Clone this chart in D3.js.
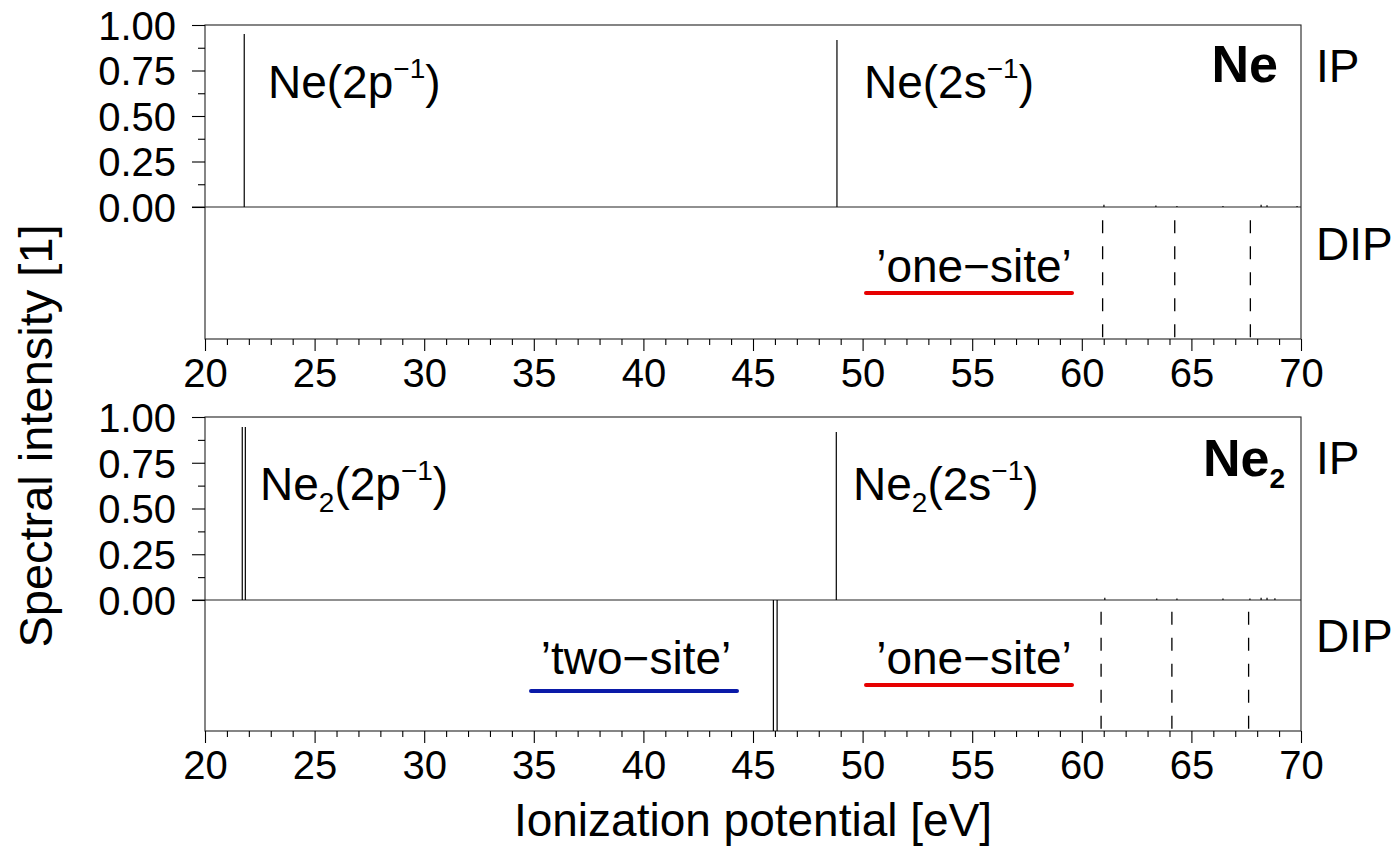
<!DOCTYPE html>
<html><head><meta charset="utf-8">
<script src="https://cdn.jsdelivr.net/npm/d3@7"></script>
<style>
body{margin:0;background:#fff}
svg{display:block}
text{font-family:"Liberation Sans",Arial,Helvetica,sans-serif;fill:#000}
</style>
</head><body>
<svg id="chart" width="1398" height="846"></svg>
<script>
// ---------------- data ----------------
const xMajorTicks = [20, 25, 30, 35, 40, 45, 50, 55, 60, 65, 70];
const xMinorTicks = [21,22,23,24,26,27,28,29,31,32,33,34,36,37,38,39,41,42,43,44,46,47,48,49,51,52,53,54,56,57,58,59,61,62,63,64,66,67,68,69];
const yTickValues = [0, 0.25, 0.5, 0.75, 1];
const yTickLabels = ["0.00", "0.25", "0.50", "0.75", "1.00"];
const yMinorTicks = [0.125, 0.375, 0.625, 0.875];

// Ne (atom): ionization potentials (IP) and double ionization potentials (DIP)
const neIpEnergy    = [21.79, 48.83, 61.01, 63.38, 64.34, 66.44, 68.18, 68.45, 69.82];
const neIpIntensity = [0.950, 0.917, 0.012, 0.008, 0.006, 0.006, 0.012, 0.010, 0.006];
const neDipEnergy    = [60.95, 64.24, 67.69];
const neDipIntensity = [0.90, 0.90, 0.90];

// Ne2 (dimer)
const ne2IpEnergy    = [21.70, 21.84, 48.80, 61.05, 63.42, 64.34, 66.44, 67.67, 68.18, 68.45, 68.81];
const ne2IpIntensity = [0.945, 0.945, 0.918, 0.012, 0.008, 0.008, 0.008, 0.008, 0.012, 0.012, 0.010];
const ne2DipTwoSiteEnergy    = [45.93, 46.10];
const ne2DipTwoSiteIntensity = [1.0, 1.0];
const ne2DipOneSiteEnergy    = [60.88, 64.11, 67.61];
const ne2DipOneSiteIntensity = [0.91, 0.91, 0.91];

// ---------------- layout ----------------
const svg = d3.select("#chart");
const FONT = '"Liberation Sans",Arial,Helvetica,sans-serif';
const left = 205, right = 1301;
const x = d3.scaleLinear().domain([20, 70]).range([left, right]);

const panels = [
  { top: 25,  zero: 207, bottom: 339,
    ip: [neIpEnergy, neIpIntensity],
    dipSolid: null,
    dipDashed: [neDipEnergy, neDipIntensity] },
  { top: 417, zero: 600, bottom: 731,
    ip: [ne2IpEnergy, ne2IpIntensity],
    dipSolid: [ne2DipTwoSiteEnergy, ne2DipTwoSiteIntensity],
    dipDashed: [ne2DipOneSiteEnergy, ne2DipOneSiteIntensity] }
];

function styleAxis(g, size) {
  g.attr("font-size", size).attr("font-family", FONT).attr("color", "#000");
  g.select(".domain").remove();
  g.selectAll(".tick line").attr("stroke-width", 1.1);
}

panels.forEach(p => {
  const yIP = d3.scaleLinear().domain([0, 1]).range([p.zero, p.top]);
  const yDIP = d3.scaleLinear().domain([0, 1]).range([p.bottom, p.zero]);
  const g = svg.append("g");

  // frame
  g.append("rect").attr("x", left).attr("y", p.top)
    .attr("width", right - left).attr("height", p.bottom - p.top)
    .attr("fill", "none").attr("stroke", "#222").attr("stroke-width", 1.1);
  // zero line separating IP and DIP
  g.append("line").attr("x1", left - 13).attr("x2", right)
    .attr("y1", yIP(0)).attr("y2", yIP(0))
    .attr("stroke", "#222").attr("stroke-width", 1.1);

  // y axis (IP part only)
  const yAx = g.append("g").attr("transform", `translate(${left},0)`)
    .call(d3.axisLeft(yIP).tickValues(yTickValues)
      .tickFormat((d, i) => yTickLabels[i]).tickSize(13).tickPadding(16));
  styleAxis(yAx, 40);
  yAx.selectAll("text").attr("dy", "0.36em");
  const yAxMinor = g.append("g").attr("transform", `translate(${left},0)`)
    .call(d3.axisLeft(yIP).tickValues(yMinorTicks).tickFormat("").tickSize(7));
  styleAxis(yAxMinor, 40);

  // x axis
  const xAx = g.append("g").attr("transform", `translate(0,${p.bottom})`)
    .call(d3.axisBottom(x).tickValues(xMajorTicks).tickFormat(d3.format("d"))
      .tickSize(12).tickPadding(8));
  styleAxis(xAx, 40);
  const xAxMinor = g.append("g").attr("transform", `translate(0,${p.bottom})`)
    .call(d3.axisBottom(x).tickValues(xMinorTicks).tickFormat("").tickSize(6));
  styleAxis(xAxMinor, 40);

  // IP sticks
  const [ipE, ipI] = p.ip;
  g.append("g").selectAll("line").data(ipE).join("line")
    .attr("x1", d => x(d)).attr("x2", d => x(d))
    .attr("y1", yIP(0)).attr("y2", (d, i) => yIP(ipI[i]))
    .attr("stroke", "#000").attr("stroke-width", 1.2);

  // DIP solid sticks (two-site)
  if (p.dipSolid) {
    const [dE, dI] = p.dipSolid;
    g.append("g").selectAll("line").data(dE).join("line")
      .attr("x1", d => x(d)).attr("x2", d => x(d))
      .attr("y1", (d, i) => yDIP(dI[i])).attr("y2", yDIP(0))
      .attr("stroke", "#000").attr("stroke-width", 1.2);
  }
  // DIP dashed sticks (one-site)
  const [dE, dI] = p.dipDashed;
  g.append("g").selectAll("line").data(dE).join("line")
    .attr("x1", d => x(d)).attr("x2", d => x(d))
    .attr("y1", (d, i) => yDIP(dI[i])).attr("y2", yDIP(0))
    .attr("stroke", "#000").attr("stroke-width", 1.3)
    .attr("stroke-dasharray", "13,13");
});

// ---------------- text ----------------
function label(xp, yp, parts, opts = {}) {
  const t = svg.append("text").attr("x", xp).attr("y", yp)
    .attr("font-size", opts.size || 46)
    .attr("font-weight", opts.weight || "normal")
    .attr("text-anchor", opts.anchor || "start");
  let shift = 0;
  parts.forEach(([str, kind]) => {
    const ts = t.append("tspan").text(str);
    let target = 0, fs = opts.size || 46;
    if (kind === "sup") { target = -20; fs = 28; }
    if (kind === "sub") { target = 12; fs = 28; }
    ts.attr("font-size", fs).attr("dy", target - shift);
    shift = target;
  });
  return t;
}

// top panel (Ne)
label(268, 98, [["Ne(2p"], ["\u22121", "sup"], [")"]]);
label(864, 98, [["Ne(2s"], ["\u22121", "sup"], [")"]]);
label(1278, 82, [["Ne"]], { size: 52, weight: "bold", anchor: "end" });
label(1316, 82, [["IP"]]);
label(1316, 260, [["DIP"]]);
label(974, 282, [["\u2019one\u2212site\u2019"]], { anchor: "middle" });
svg.append("line").attr("x1", 866).attr("x2", 1072).attr("y1", 293).attr("y2", 293)
  .attr("stroke", "#e60000").attr("stroke-width", 4).attr("stroke-linecap", "round");

// bottom panel (Ne2)
label(260, 500, [["Ne"], ["2", "sub"], ["(2p"], ["\u22121", "sup"], [")"]]);
label(853, 500, [["Ne"], ["2", "sub"], ["(2s"], ["\u22121", "sup"], [")"]]);
const bold2 = label(1285, 476, [["Ne"], ["2", "sub"]], { size: 52, weight: "bold", anchor: "end" });
label(1316, 474, [["IP"]]);
label(1316, 652, [["DIP"]]);
label(636, 674, [["\u2019two\u2212site\u2019"]], { anchor: "middle" });
svg.append("line").attr("x1", 531).attr("x2", 737).attr("y1", 691).attr("y2", 691)
  .attr("stroke", "#0a1aa8").attr("stroke-width", 4).attr("stroke-linecap", "round");
label(974, 674, [["\u2019one\u2212site\u2019"]], { anchor: "middle" });
svg.append("line").attr("x1", 866).attr("x2", 1072).attr("y1", 685).attr("y2", 685)
  .attr("stroke", "#e60000").attr("stroke-width", 4).attr("stroke-linecap", "round");

// axis titles
svg.append("text").attr("transform", "translate(52,436) rotate(-90)")
  .attr("text-anchor", "middle").attr("font-size", 47).text("Spectral intensity [1]");
svg.append("text").attr("x", 753).attr("y", 836)
  .attr("text-anchor", "middle").attr("font-size", 46).text("Ionization potential [eV]");
</script>
</body></html>
